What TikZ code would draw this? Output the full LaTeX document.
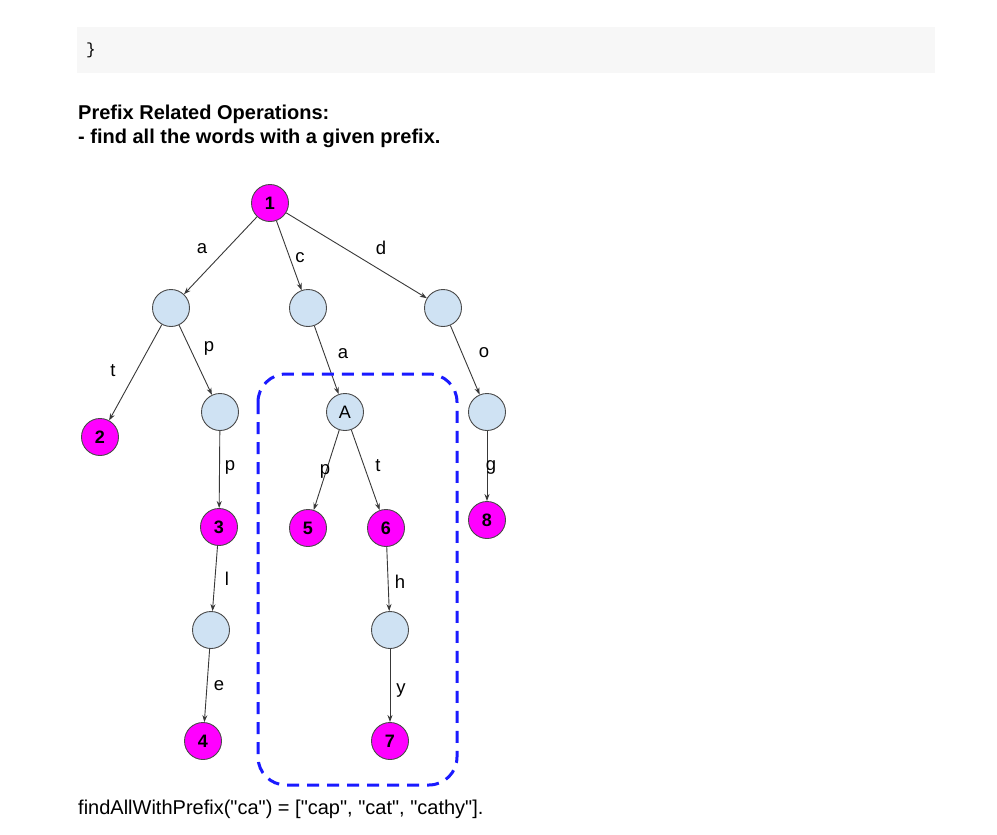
\documentclass[tikz,border=0pt]{standalone}
\usepackage{fontspec}
\setmainfont{Liberation Sans}
\setmonofont{Liberation Mono}
\usetikzlibrary{arrows.meta}
\definecolor{codebg}{HTML}{F7F7F7}
\definecolor{leaf}{HTML}{FF00FF}
\definecolor{inner}{HTML}{CFE2F3}
\definecolor{edgegray}{HTML}{4A4A4A}
\definecolor{boxblue}{HTML}{1A1AFF}
\begin{document}
\begin{tikzpicture}[x=1pt,y=-1pt,
  trie/.style={circle,draw=edgegray,line width=0.9pt,minimum size=37pt,inner sep=0pt},
  word/.style={trie,fill=leaf,font=\fontsize{18}{18}\selectfont\bfseries},
  mid/.style={trie,fill=inner,font=\fontsize{18}{18}\selectfont},
  link/.style={draw=black!78,line width=0.9pt,-{Stealth[length=7pt,width=5pt]}},
  lab/.style={font=\fontsize{18.5}{18.5}\selectfont,inner sep=0pt},
  txt/.style={font=\fontsize{20}{22}\selectfont,inner sep=0pt,anchor=west}]
\useasboundingbox (0,0) rectangle (997,835);
\fill[codebg] (77,27) rectangle (935,73);
\node[txt,font=\fontsize{16}{16}\ttfamily] (brace) at (86,50) {\}};
\node[txt,font=\fontsize{20}{22}\selectfont\bfseries] (h1) at (78,114) {Prefix Related Operations:};
\node[txt,font=\fontsize{20}{22}\selectfont\bfseries] (h2) at (78,138) {- find all the words with a given prefix.};
% nodes
\node[word] (n1) at (270,203) {1};
\node[mid] (na) at (171,308) {};
\node[mid] (nc) at (308,308) {};
\node[mid] (nd) at (443,308) {};
\node[word] (n2) at (100,437) {2};
\node[mid] (nap) at (220,412) {};
\node[mid] (nA) at (345,412) {A};
\node[mid] (ndo) at (487,412) {};
\node[word] (n3) at (219,527) {3};
\node[word] (n5) at (308,528) {5};
\node[word] (n6) at (386,528) {6};
\node[word] (n8) at (487,520) {8};
\node[mid] (nl) at (211,630) {};
\node[mid] (nh) at (390,630) {};
\node[word] (n4) at (203,741) {4};
\node[word] (n7) at (390,741) {7};
% edges
\draw[link] (n1) -- (na);
\draw[link] (n1) -- (nc);
\draw[link] (n1) -- (nd);
\draw[link] (na) -- (n2);
\draw[link] (na) -- (nap);
\draw[link] (nc) -- (nA);
\draw[link] (nd) -- (ndo);
\draw[link] (nap) -- (n3);
\draw[link] (nA) -- (n5);
\draw[link] (nA) -- (n6);
\draw[link] (ndo) -- (n8);
\draw[link] (n3) -- (nl);
\draw[link] (n6) -- (nh);
\draw[link] (nl) -- (n4);
\draw[link] (nh) -- (n7);
% edge labels
\node[lab] (la) at (202,249) {a};
\node[lab] (lc) at (300,258) {c};
\node[lab] (ld) at (381,248) {d};
\node[lab] (lt) at (113,371) {t};
\node[lab] (lp) at (209,348) {p};
\node[lab] (la2) at (343,354) {a};
\node[lab] (lo) at (484,353) {o};
\node[lab] (lp2) at (230,467) {p};
\node[lab] (lp3) at (325,471) {p};
\node[lab] (lt2) at (378,466) {t};
\node[lab] (lg) at (491,467) {g};
\node[lab] (ll) at (227,579) {l};
\node[lab] (lh) at (400,582) {h};
\node[lab] (le) at (219,686) {e};
\node[lab] (ly) at (401,691) {y};
% dashed group
\draw[boxblue,line width=3pt,dash pattern=on 12pt off 8pt,rounded corners=28pt] (258,374) rectangle (457,785);
\node[txt] (res) at (78,809) {findAllWithPrefix(\textquotedbl ca\textquotedbl) = [\textquotedbl cap\textquotedbl, \textquotedbl cat\textquotedbl, \textquotedbl cathy\textquotedbl].};
\end{tikzpicture}
\end{document}
